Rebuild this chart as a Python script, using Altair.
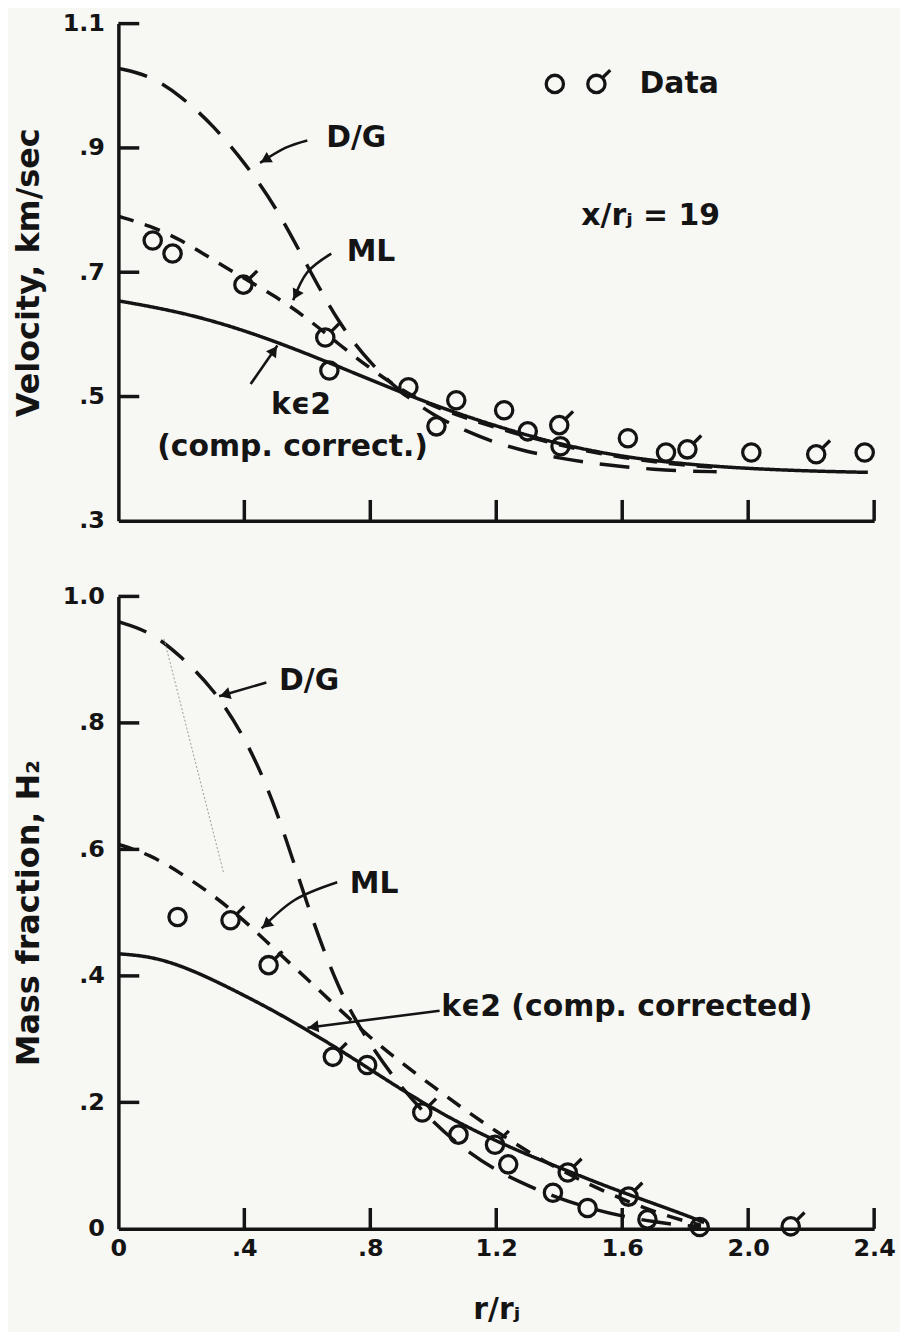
import math
import altair as alt
import pandas as pd

# ---------------- data ----------------
# Top panel: velocity, km/sec vs r/rj
top_ke2_r = [0, 0.2, 0.4, 0.6, 0.8, 1.0, 1.2, 1.4, 1.6, 1.8, 2.0, 2.2, 2.38]
top_ke2_v = [0.654, 0.636, 0.607, 0.569, 0.527, 0.486, 0.452, 0.423, 0.403, 0.391, 0.384, 0.380, 0.378]

top_dg_r = [0, 0.1, 0.2, 0.3, 0.4, 0.5, 0.6, 0.7, 0.8, 0.9, 1.0, 1.1, 1.2, 1.3, 1.4, 1.5, 1.6, 1.7, 1.8, 1.9]
top_dg_v = [1.028, 1.017, 0.983, 0.937, 0.877, 0.806, 0.71, 0.617, 0.553, 0.505, 0.47, 0.445, 0.425,
            0.411, 0.401, 0.393, 0.387, 0.383, 0.380, 0.379]

top_ml_r = [0, 0.1, 0.2, 0.3, 0.4, 0.5, 0.6, 0.7, 0.8, 0.9, 1.0, 1.2, 1.4, 1.6, 1.8, 1.9]
top_ml_v = [0.79, 0.775, 0.752, 0.72, 0.69, 0.661, 0.626, 0.584, 0.545, 0.51, 0.483, 0.449,
            0.421, 0.401, 0.389, 0.386]

top_pts_r = [0.109, 0.172, 0.397, 0.657, 0.670, 0.921, 1.010, 1.073, 1.225, 1.300, 1.400, 1.404,
             1.618, 1.739, 1.807, 2.010, 2.216, 2.370]
top_pts_v = [0.751, 0.730, 0.680, 0.595, 0.542, 0.515, 0.452, 0.494, 0.478, 0.444, 0.454, 0.420,
             0.433, 0.410, 0.415, 0.410, 0.407, 0.410]
top_pts_k = ["o", "o", "t", "t", "o", "o", "o", "o", "o", "o", "t", "o", "o", "o", "t", "o", "t", "o"]

# Bottom panel: mass fraction H2 vs r/rj
bot_ke2_r = [0, 0.1, 0.2, 0.3, 0.4, 0.5, 0.6, 0.7, 0.8, 0.9, 1.0, 1.1, 1.2, 1.3, 1.4, 1.5, 1.6,
             1.7, 1.8, 1.86]
bot_ke2_m = [0.435, 0.431, 0.416, 0.394, 0.369, 0.343, 0.314, 0.284, 0.252, 0.22, 0.19, 0.163,
             0.139, 0.117, 0.097, 0.077, 0.058, 0.04, 0.022, 0.01]

bot_dg_r = [0, 0.1, 0.2, 0.3, 0.4, 0.5, 0.6, 0.7, 0.8, 0.9, 1.0, 1.1, 1.2, 1.3, 1.4, 1.5, 1.6,
            1.7, 1.8, 1.85]
bot_dg_m = [0.96, 0.945, 0.905, 0.855, 0.78, 0.67, 0.51, 0.375, 0.29, 0.222, 0.168, 0.125,
            0.092, 0.068, 0.048, 0.032, 0.02, 0.011, 0.005, 0.003]

bot_ml_r = [0, 0.1, 0.2, 0.3, 0.4, 0.5, 0.6, 0.7, 0.8, 0.9, 1.0, 1.1, 1.2, 1.3, 1.4, 1.5, 1.6,
            1.7, 1.8, 1.85]
bot_ml_m = [0.608, 0.592, 0.562, 0.528, 0.488, 0.44, 0.395, 0.348, 0.302, 0.262, 0.225, 0.188,
            0.154, 0.122, 0.094, 0.069, 0.047, 0.027, 0.012, 0.006]

bot_pts_r = [0.188, 0.356, 0.477, 0.681, 0.790, 0.965, 1.080, 1.196, 1.238, 1.380, 1.427, 1.490,
             1.620, 1.680, 1.846, 2.135]
bot_pts_m = [0.493, 0.488, 0.417, 0.272, 0.259, 0.184, 0.149, 0.133, 0.102, 0.057, 0.089, 0.033,
             0.051, 0.015, 0.003, 0.004]
bot_pts_k = ["o", "t", "t", "t", "o", "t", "o", "t", "o", "o", "t", "o", "t", "o", "o", "t"]

# faint pencil trace on the lower panel
trace_r = [0.145, 0.334]
trace_m = [0.933, 0.563]

# tick values / labels
x_ticks = [0.4, 0.8, 1.2, 1.6, 2.0, 2.4]
x_labels = [0, 0.4, 0.8, 1.2, 1.6, 2.0, 2.4]
top_y_ticks = [0.5, 0.7, 0.9, 1.1]
top_y_labels = [0.3, 0.5, 0.7, 0.9, 1.1]
bot_y_ticks = [0.2, 0.4, 0.6, 0.8, 1.0]
bot_y_labels = [0, 0.2, 0.4, 0.6, 0.8, 1.0]

# annotation texts
top_texts = ["D/G", "ML", "kϵ2", "(comp. correct.)", "Data", "x/rⱼ = 19"]
top_text_r = [0.66, 0.725, 0.58, 0.553, 1.655, 1.47]
top_text_v = [0.916, 0.732, 0.486, 0.418, 1.003, 0.79]
top_text_align = ["left", "left", "center", "center", "left", "left"]
legend_sym_r = [1.386, 1.518]
legend_sym_v = [1.003, 1.003]
legend_sym_k = ["o", "t"]

bot_texts = ["D/G", "ML", "kϵ2 (comp. corrected)"]
bot_text_r = [0.51, 0.735, 1.025]
bot_text_m = [0.866, 0.545, 0.35]

# arrows: list of points, last one is the tip
top_arrows = {
    "dg": [(0.60, 0.912), (0.53, 0.90), (0.45, 0.876)],
    "ml": [(0.676, 0.73), (0.60, 0.70), (0.555, 0.655)],
    "ke": [(0.42, 0.52), (0.505, 0.582)],
}
bot_arrows = {
    "dg": [(0.47, 0.864), (0.32, 0.842)],
    "ml": [(0.695, 0.548), (0.56, 0.52), (0.455, 0.475)],
    "ke": [(1.02, 0.345), (0.60, 0.318)],
}

# ---------------- styling ----------------
INK = "#141414"
BG = "#f7f7f4"
FONT = "DejaVu Sans"
W = 760
H_TOP = 500
H_BOT = 636
LW = 3.5
X_DOM = [0, 2.4]
TOP_DOM = [0.3, 1.1]
BOT_DOM = [0.0, 1.0]
SYM_SIZE = 1000

CIRCLE = "M0.55,0 A0.55,0.55 0 1,1 -0.55,0 A0.55,0.55 0 1,1 0.55,0 Z"
TAILED = CIRCLE + " M0.39,-0.39 L0.88,-0.88"

LABEL_EXPR = ("datum.value == 0 ? '0' : (datum.value < 1 ? "
              "replace(format(datum.value, '.1f'), '0.', '.') : format(datum.value, '.1f'))")


def curves_df(parts):
    rows = []
    for name, rs, vs in parts:
        for r, v in zip(rs, vs):
            rows.append({"series": name, "r": r, "val": v})
    return pd.DataFrame(rows)


def arrows_dfs(arrows, sy):
    sx = W / (X_DOM[1] - X_DOM[0])
    lines, heads = [], []
    for key, pts in arrows.items():
        for i, (r, v) in enumerate(pts):
            lines.append({"id": key, "o": i, "r": r, "val": v})
        (r0, v0), (r1, v1) = pts[-2], pts[-1]
        dx = (r1 - r0) * sx
        dy = -(v1 - v0) * sy
        L = math.hypot(dx, dy)
        ux, uy = dx / L, dy / L
        ang = math.degrees(math.atan2(ux, -uy)) % 360
        back = 6.0
        heads.append({"r": r1 - ux * back / sx, "val": v1 + uy * back / sy, "ang": ang})
    return pd.DataFrame(lines), pd.DataFrame(heads)


def sym_layer(df, X, Y):
    return alt.Chart(df).mark_point(filled=False, color=INK, strokeWidth=3.3, opacity=1,
                                    size=SYM_SIZE).encode(
        x=X("r:Q"), y=Y("val:Q"),
        shape=alt.Shape("k:N", legend=None,
                        scale=alt.Scale(domain=["o", "t"], range=[CIRCLE, TAILED])),
    )


def panel(curves, pts_r, pts_v, pts_k, ydom, height, yticks, ylabels, ytitle,
          show_x_labels, texts, arrows, extra_layers):
    xs = alt.Scale(domain=X_DOM, nice=False, zero=False)
    ys = alt.Scale(domain=ydom, nice=False, zero=False)
    sy = height / (ydom[1] - ydom[0])

    if show_x_labels:
        xaxis = alt.Axis(title="r/rⱼ", values=x_labels, labelExpr=LABEL_EXPR, ticks=False,
                         grid=False, domainColor=INK, domainWidth=LW, labelFont=FONT,
                         labelFontSize=24, labelFontWeight="bold", labelColor=INK,
                         labelPadding=8, labelFlush=False, labelOverlap=False,
                         titleFont=FONT, titleFontSize=30, titleFontWeight="bold",
                         titleColor=INK, titlePadding=34)
    else:
        xaxis = alt.Axis(title=None, labels=False, ticks=False, grid=False, domainColor=INK,
                         domainWidth=LW)
    yaxis = alt.Axis(title=ytitle, values=ylabels, labelExpr=LABEL_EXPR, ticks=False, grid=False,
                     domainColor=INK, domainWidth=LW, labelFont=FONT, labelFontSize=24,
                     labelFontWeight="bold", labelColor=INK, labelPadding=14,
                     labelOverlap=False, titleFont=FONT, titleFontSize=32,
                     titleFontWeight="bold", titleColor=INK, titlePadding=17)

    X = lambda f: alt.X(f, scale=xs, axis=xaxis)
    Y = lambda f: alt.Y(f, scale=ys, axis=yaxis)

    layers = []
    layers.append(
        alt.Chart(curves).mark_line(color=INK, strokeWidth=LW, interpolate="basis",
                                    strokeCap="butt").encode(
            x=X("r:Q"), y=Y("val:Q"),
            strokeDash=alt.StrokeDash("series:N", legend=None, scale=alt.Scale(
                domain=["ke2", "dg", "ml"], range=[[1, 0], [30, 17], [16, 12]])),
            detail="series:N",
        )
    )
    layers.extend(extra_layers(X, Y))
    pts = pd.DataFrame({"r": pts_r, "val": pts_v, "k": pts_k})
    layers.append(sym_layer(pts, X, Y))
    # inward ticks
    layers.append(
        alt.Chart(pd.DataFrame({"t": yticks})).mark_rule(color=INK, strokeWidth=LW).encode(
            y=Y("t:Q"), x=alt.value(0), x2=alt.value(21))
    )
    layers.append(
        alt.Chart(pd.DataFrame({"t": x_ticks})).mark_rule(color=INK, strokeWidth=LW).encode(
            x=X("t:Q"), y=alt.value(height), y2=alt.value(height - 21))
    )
    # arrows
    adf, hdf = arrows_dfs(arrows, sy)
    layers.append(
        alt.Chart(adf).mark_line(color=INK, strokeWidth=2.6, interpolate="natural").encode(
            x=X("r:Q"), y=Y("val:Q"), detail="id:N", order="o:Q")
    )
    layers.append(
        alt.Chart(hdf).mark_point(shape="triangle-up", filled=True, color=INK, opacity=1,
                                  size=150).encode(
            x=X("r:Q"), y=Y("val:Q"), angle=alt.Angle("ang:Q", scale=None))
    )
    # texts
    tdf = pd.DataFrame(texts)
    for al in ["left", "center"]:
        sub = tdf[tdf["align"] == al]
        if len(sub):
            layers.append(
                alt.Chart(sub).mark_text(font=FONT, fontSize=30, fontWeight="bold", color=INK,
                                         align=al, baseline="middle").encode(
                    x=X("r:Q"), y=Y("val:Q"), text="label:N")
            )
    return alt.layer(*layers).properties(width=W, height=height)


def top_extra(X, Y):
    leg = pd.DataFrame({"r": legend_sym_r, "val": legend_sym_v, "k": legend_sym_k})
    return [sym_layer(leg, X, Y)]


def bot_extra(X, Y):
    tr = pd.DataFrame({"r": trace_r, "val": trace_m})
    return [
        alt.Chart(tr).mark_line(color="#9a9a9a", strokeWidth=1, strokeDash=[2, 2]).encode(
            x=X("r:Q"), y=Y("val:Q"))
    ]


top_curves = curves_df([("ke2", top_ke2_r, top_ke2_v), ("dg", top_dg_r, top_dg_v),
                        ("ml", top_ml_r, top_ml_v)])
bot_curves = curves_df([("ke2", bot_ke2_r, bot_ke2_m), ("dg", bot_dg_r, bot_dg_m),
                        ("ml", bot_ml_r, bot_ml_m)])

top_text_rows = [{"label": t, "r": r, "val": v, "align": a}
                 for t, r, v, a in zip(top_texts, top_text_r, top_text_v, top_text_align)]
bot_text_rows = [{"label": t, "r": r, "val": v, "align": "left"}
                 for t, r, v in zip(bot_texts, bot_text_r, bot_text_m)]

top = panel(top_curves, top_pts_r, top_pts_v, top_pts_k, TOP_DOM, H_TOP, top_y_ticks,
            top_y_labels, "Velocity, km/sec", False, top_text_rows, top_arrows, top_extra)
bottom = panel(bot_curves, bot_pts_r, bot_pts_m, bot_pts_k, BOT_DOM, H_BOT, bot_y_ticks,
               bot_y_labels, "Mass fraction, H₂", True, bot_text_rows, bot_arrows, bot_extra)

chart = alt.vconcat(top, bottom, spacing=52).resolve_scale(
    shape="independent", strokeDash="independent", y="independent"
).properties(
    background=BG, padding={"left": 4, "top": 0, "right": 4, "bottom": 4}
).configure_view(stroke=None)

chart.save("out.html", embed_options={"renderer": "svg", "actions": False})
